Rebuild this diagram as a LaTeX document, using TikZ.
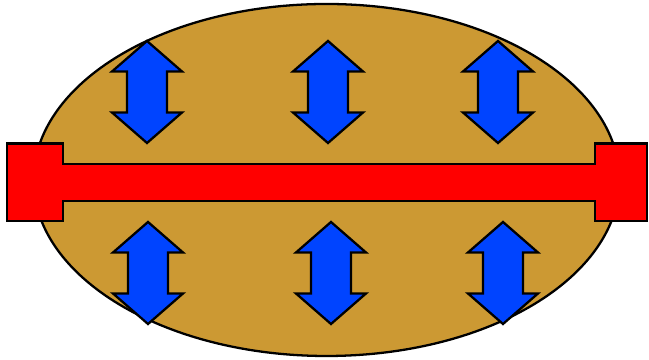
\documentclass[tikz,border=0pt]{standalone}
\definecolor{clay}{RGB}{204,153,51}
\definecolor{flowblue}{RGB}{0,68,255}
\tikzstyle{every path}=[line width=1.3pt,line join=miter]
\tikzset{
  updown/.pic={
    \draw[fill=flowblue] (0,1.02) -- (0.7,0.41) -- (0.4,0.41) -- (0.4,-0.41) -- (0.7,-0.41)
      -- (0,-1.02) -- (-0.7,-0.41) -- (-0.4,-0.41) -- (-0.4,0.41) -- (-0.7,0.41) -- cycle;
  }
}

\begin{document}
\begin{tikzpicture}
\useasboundingbox (0,0) rectangle (12.98,7.2);
%Body of the material
	\coordinate (O) at (6.53,3.6) ;
	\draw[fill=clay] (O) ellipse [x radius=5.86, y radius=3.52];
%Bar through the middle with end caps
	\coordinate (B0) at (0.14,2.78) ;
	\draw[fill=red] (B0) -- ++(0,1.55) -- ++(1.12,0) -- ++(0,-0.41) coordinate (T0)
	-- ++(10.64,0) -- ++(0,0.41) -- ++(1.04,0) -- ++(0,-1.55) -- ++(-1.04,0) -- ++(0,0.4)
	-- ++(-10.64,0) -- ++(0,-0.4) -- cycle;
%Arrows above the bar
	\pic at (2.94,5.36) {updown};
	\pic at (6.56,5.36) {updown};
	\pic at (9.96,5.36) {updown};
%Arrows below the bar
	\pic at (2.96,1.74) {updown};
	\pic at (6.62,1.74) {updown};
	\pic at (10.06,1.74) {updown};
\end{tikzpicture}
\end{document}
